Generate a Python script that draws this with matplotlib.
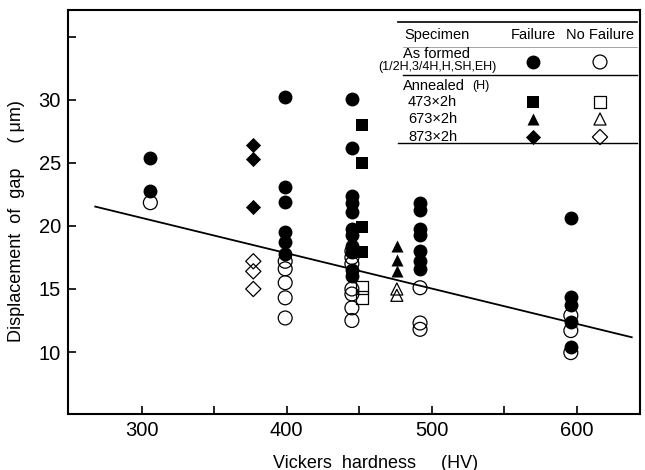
import numpy as np
import matplotlib
matplotlib.use("Agg")
import matplotlib.pyplot as plt

plt.rcParams['font.family'] = ['Liberation Sans', 'DejaVu Sans']

# ---------------- data ----------------
# As formed specimens (circles)
af_fail_x = [306, 306,
             399, 399, 399, 399, 399, 399,
             445, 445, 445, 445, 445, 445, 445, 445, 445, 445, 445,
             492, 492, 492, 492, 492, 492, 492,
             596, 596, 596, 596, 596]
af_fail_y = [25.4, 22.8,
             30.2, 23.1, 21.9, 19.5, 18.7, 17.8,
             30.1, 26.2, 22.4, 21.8, 21.1, 19.8, 19.3, 18.4, 17.9, 16.5, 16.0,
             21.8, 21.3, 19.8, 19.3, 18.0, 17.2, 16.6,
             20.6, 14.4, 13.7, 12.4, 10.4]
af_ok_x = [306,
           399, 399, 399, 399, 399,
           445, 445, 445, 445, 445, 445, 445,
           492, 492, 492,
           596, 596, 596]
af_ok_y = [21.85,
           17.2, 16.6, 15.5, 14.3, 12.7,
           18.0, 17.5, 17.0, 15.0, 14.6, 13.5, 12.5,
           15.1, 12.3, 11.8,
           12.9, 11.7, 9.95]

# Annealed 473K x 2h (squares)
a473_fail_x = [452, 452, 452, 452]
a473_fail_y = [28.0, 25.0, 19.9, 17.9]
a473_ok_x = [452, 452]
a473_ok_y = [15.1, 14.3]

# Annealed 673K x 2h (triangles)
a673_fail_x = [476, 476, 476]
a673_fail_y = [18.4, 17.3, 16.4]
a673_ok_x = [476, 476]
a673_ok_y = [15.0, 14.5]

# Annealed 873K x 2h (diamonds)
a873_fail_x = [377, 377, 377]
a873_fail_y = [26.4, 25.3, 21.5]
a873_ok_x = [377, 377, 377]
a873_ok_y = [17.2, 16.4, 15.0]

# regression line end points
fit_x = [268, 638]
fit_y = [21.54, 11.17]

x_ticks = [300, 350, 400, 450, 500, 550, 600]
x_labels = ['300', '', '400', '', '500', '', '600']
y_ticks = [10, 15, 20, 25, 30, 35]
y_labels = ['10', '15', '20', '25', '30', '']

# ---------------- plotting ----------------
W, H = 645, 470
fig = plt.figure(figsize=(W / 100, H / 100), dpi=100)
ax = fig.add_axes([67.7 / W, 1 - 414 / H, (640 - 67.7) / W, (414 - 10) / H])

ax.plot(fit_x, fit_y, color='black', lw=1.3, zorder=2)

open_kw = dict(facecolors='none', edgecolors='black', linewidths=0.9, zorder=3)
fill_kw = dict(color='black', linewidths=0, zorder=4)

ax.scatter(af_ok_x, af_ok_y, s=100, marker='o', **open_kw)
ax.scatter(a473_ok_x, a473_ok_y, s=85, marker='s', **open_kw)
ax.scatter(a673_ok_x, a673_ok_y, s=75, marker='^', **open_kw)
ax.scatter(a873_ok_x, a873_ok_y, s=60, marker='D', **open_kw)

ax.scatter(af_fail_x, af_fail_y, s=100, marker='o', **fill_kw)
ax.scatter(a473_fail_x, a473_fail_y, s=85, marker='s', **fill_kw)
ax.scatter(a673_fail_x, a673_fail_y, s=75, marker='^', **fill_kw)
ax.scatter(a873_fail_x, a873_fail_y, s=60, marker='D', **fill_kw)

ax.set_xlim(249, 643.7)
ax.set_ylim(5.08, 37.14)
ax.set_xticks(x_ticks)
ax.set_xticklabels(x_labels)
ax.set_yticks(y_ticks)
ax.set_yticklabels(y_labels)
ax.tick_params(direction='in', length=6, width=1.2, labelsize=14.5, pad=5)
for sp in ax.spines.values():
    sp.set_linewidth(1.5)

fig.text(376 / W, 1 - 463 / H, 'Vickers  hardness     (HV)', ha='center', va='center', fontsize=13)
fig.text(17 / W, 1 - 221 / H, 'Displacement  of  gap     ( μm)', ha='center', va='center',
         rotation=90, fontsize=13)

# ---------------- legend table ----------------
L, R, T, B = 395, 641, 15, 146
leg = fig.add_axes([L / W, 1 - B / H, (R - L) / W, (B - T) / H])
leg.set_xlim(L, R)
leg.set_ylim(B, T)
leg.axis('off')

leg.plot([398, 637], [21.7, 21.7], color='black', lw=1.2)
leg.plot([403, 637], [46.7, 46.7], color='0.5', lw=0.5)
leg.plot([403, 637], [75, 75], color='black', lw=1.0)
leg.plot([398, 637], [143, 143], color='black', lw=1.0)

leg.text(437, 35, 'Specimen', ha='center', va='center', fontsize=10.5)
leg.text(533, 35, 'Failure', ha='center', va='center', fontsize=10.5)
leg.text(600, 35, 'No Failure', ha='center', va='center', fontsize=10.5)
leg.text(437, 54, 'As formed', ha='center', va='center', fontsize=10.5)
leg.text(437, 67, '(1/2H,3/4H,H,SH,EH)', ha='center', va='center', fontsize=9)
leg.text(403, 86, 'Annealed', ha='left', va='center', fontsize=10.5)
leg.text(472, 86, '(H)', ha='left', va='center', fontsize=9)
leg.text(408, 102, '473×2h', ha='left', va='center', fontsize=10.5)
leg.text(408, 119, '673×2h', ha='left', va='center', fontsize=10.5)
leg.text(408, 137, '873×2h', ha='left', va='center', fontsize=10.5)

leg_marks = ['o', 's', '^', 'D']
leg_sizes = [100, 85, 75, 60]
leg_rows = [62, 102, 119, 137]
for m, s, yy in zip(leg_marks, leg_sizes, leg_rows):
    leg.scatter([533], [yy], s=s, marker=m, color='black', linewidths=0)
    leg.scatter([600], [yy], s=s, marker=m, facecolors='none', edgecolors='black', linewidths=0.9)

fig.savefig('out.png', dpi=100)
